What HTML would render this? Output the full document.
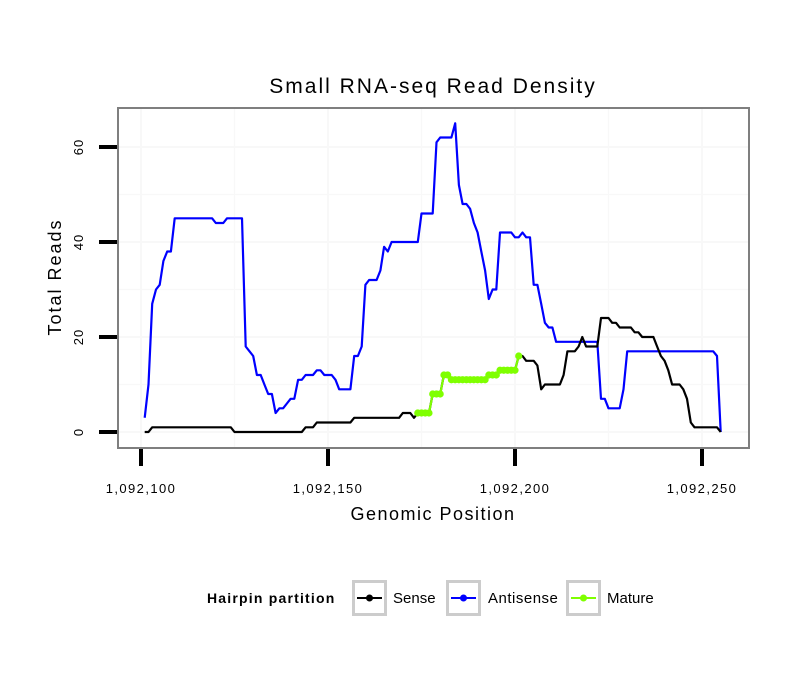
<!DOCTYPE html>
<html><head><meta charset="utf-8"><style>
body{margin:0;background:#fff;}
svg{display:block;font-family:"Liberation Sans",sans-serif;}
</style></head><body>
<svg id="chart" width="810" height="690" viewBox="0 0 810 690" xmlns="http://www.w3.org/2000/svg">
<rect width="810" height="690" fill="#fff"/>
<text x="433" y="93" font-size="21" letter-spacing="2" text-anchor="middle" fill="#000">Small RNA-seq Read Density</text>
<g id="grid"></g>
<g id="series"></g>
<rect x="118" y="108" width="631" height="340" fill="none" stroke="#7f7f7f" stroke-width="2"/>
<g id="axes"></g>
<text x="433" y="520" font-size="18" letter-spacing="1.5" text-anchor="middle">Genomic Position</text>
<text transform="translate(61,277) rotate(-90)" font-size="18" letter-spacing="2" text-anchor="middle">Total Reads</text>
<g>
<text x="207" y="603" font-size="14" letter-spacing="1.2" font-weight="bold">Hairpin partition</text>
<g>
<rect x="353.5" y="581.5" width="32" height="33" fill="#fff" stroke="#cccccc" stroke-width="3"/>
<line x1="357" y1="598" x2="382" y2="598" stroke="#000" stroke-width="2"/><circle cx="369.5" cy="598" r="3.5" fill="#000"/>
<text x="393" y="603" font-size="15">Sense</text></g>
<g>
<rect x="447.5" y="581.5" width="32" height="33" fill="#fff" stroke="#cccccc" stroke-width="3"/>
<line x1="451" y1="598" x2="476" y2="598" stroke="#0000ff" stroke-width="2"/><circle cx="463.5" cy="598" r="3.5" fill="#0000ff"/>
<text x="488" y="603" font-size="15" letter-spacing="0.5">Antisense</text></g>
<g>
<rect x="567.5" y="581.5" width="32" height="33" fill="#fff" stroke="#cccccc" stroke-width="3"/>
<line x1="571" y1="598" x2="596" y2="598" stroke="#7fff00" stroke-width="2"/><circle cx="583.5" cy="598" r="3.5" fill="#7fff00"/>
<text x="607" y="603" font-size="15">Mature</text></g>
</g>
</svg>
<script>
const xTicks = [1092100, 1092150, 1092200, 1092250];
const xTickLabels = ["1,092,100", "1,092,150", "1,092,200", "1,092,250"];
const yTicks = [0, 20, 40, 60];
const yMinor = [10, 30, 50];
const startPos = 1092101;
const antisense = [3,10,27,30,31,36,38,38,45,45,45,45,45,45,45,45,45,45,45,44,44,44,45,45,45,45,45,18,17,16,12,12,10,8,8,4,5,5,6,7,7,11,11,12,12,12,13,13,12,12,12,11,9,9,9,9,16,16,18,31,32,32,32,34,39,38,40,40,40,40,40,40,40,40,46,46,46,46,61,62,62,62,62,65,52,48,48,47,44,42,38,34,28,30,30,42,42,42,42,41,41,42,41,41,31,31,27,23,22,22,19,19,19,19,19,19,19,19,19,19,19,19,7,7,5,5,5,5,9,17,17,17,17,17,17,17,17,17,17,17,17,17,17,17,17,17,17,17,17,17,17,17,17,16,0];
const sense = [0,0,1,1,1,1,1,1,1,1,1,1,1,1,1,1,1,1,1,1,1,1,1,1,0,0,0,0,0,0,0,0,0,0,0,0,0,0,0,0,0,0,0,1,1,1,2,2,2,2,2,2,2,2,2,2,3,3,3,3,3,3,3,3,3,3,3,3,3,4,4,4,3,4,4,4,4,8,8,8,12,12,11,11,11,11,11,11,11,11,11,11,12,12,12,13,13,13,13,13,16,16,15,15,15,14,9,10,10,10,10,10,12,17,17,17,18,20,18,18,18,18,24,24,24,23,23,22,22,22,22,21,21,20,20,20,20,18,16,15,13,10,10,10,9,7,2,1,1,1,1,1,1,1,0];
const matureStart = 1092174;
const mature = [4,4,4,4,8,8,8,12,12,11,11,11,11,11,11,11,11,11,11,12,12,12,13,13,13,13,13,16];

const NS = "http://www.w3.org/2000/svg";
const xs = v => 141 + (v - 1092100) * 3.74;
const ys = v => 432 - v * 4.75;
function mk(tag, attrs, parent){const e=document.createElementNS(NS,tag);for(const k in attrs)e.setAttribute(k,attrs[k]);parent.appendChild(e);return e;}
const grid=document.getElementById('grid'), axes=document.getElementById('axes'), series=document.getElementById('series');
yTicks.concat(yMinor).forEach(v=>{
  const l=mk('line',{x1:119,x2:748,y1:ys(v),y2:ys(v),stroke:'#f8f8f8','stroke-width':yTicks.includes(v)?2:1.2},grid);
  
  
});
const xMinor=[1092125,1092175,1092225];
xTicks.concat(xMinor).forEach(v=>{
  const l=mk('line',{x1:xs(v),x2:xs(v),y1:109,y2:447,stroke:'#f8f8f8','stroke-width':xTicks.includes(v)?2:1.2},grid);
  
  
});
yTicks.forEach(v=>{
  const t=mk('line',{x1:99,x2:117,y1:ys(v),y2:ys(v),stroke:'#000','stroke-width':4},axes);
  
  
  const tx=mk('text',{transform:`translate(${83},${ys(v)}) rotate(-90)`,'font-size':13,'letter-spacing':1,'text-anchor':'middle'},axes);
  tx.textContent=v;
  
  
});
xTicks.forEach((v,i)=>{
  const t=mk('line',{x1:xs(v),x2:xs(v),y1:449,y2:466,stroke:'#000','stroke-width':4},axes);
  
  
  const tx=mk('text',{x:xs(v),y:493,'font-size':13,'letter-spacing':1.4,'text-anchor':'middle'},axes);
  tx.textContent=xTickLabels[i];
  
  
});
function line(arr,start,color,name){
  const d=arr.map((v,i)=>(i?'L':'M')+xs(start+i).toFixed(1)+' '+ys(v).toFixed(1)).join(' ');
  const p=mk('path',{d:d,fill:'none',stroke:color,'stroke-width':2.2,'stroke-linejoin':'round'},series);
  
  
}
line(antisense,startPos,'#0000ff','antisense-line');
line(sense,startPos,'#000000','sense-line');
line(mature,matureStart,'#7fff00','mature-line');
mature.forEach((v,i)=>{
  const c=mk('circle',{cx:xs(matureStart+i),cy:ys(v),r:3.6,fill:'#7fff00'},series);
  
  
});
</script>
</body></html>
